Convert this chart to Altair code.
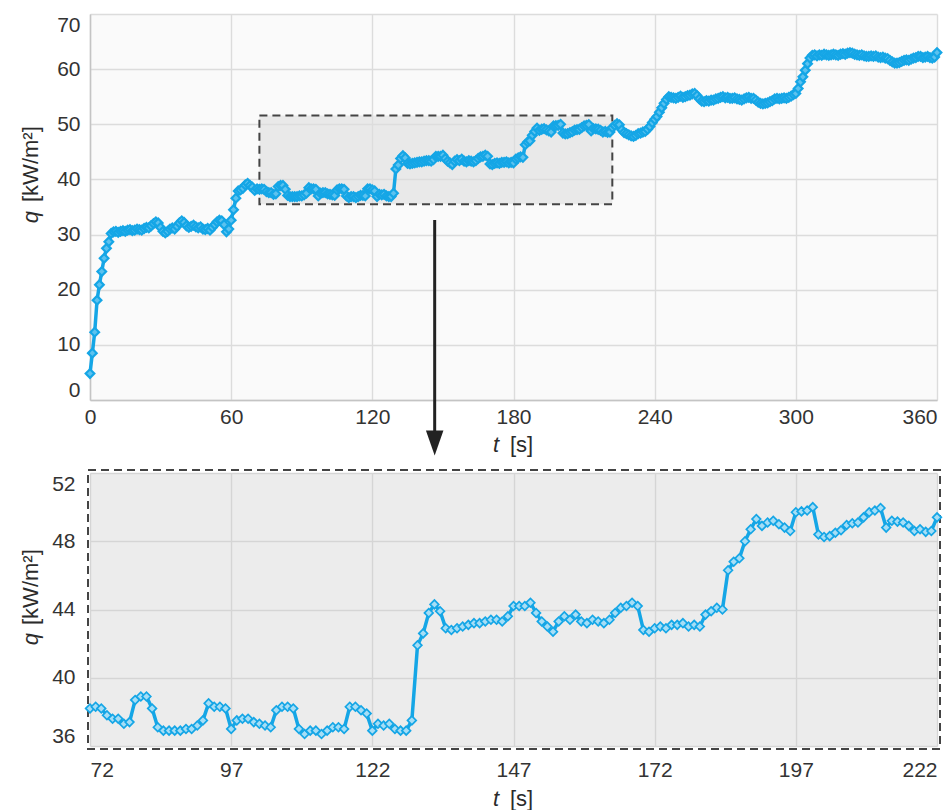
import altair as alt
import pandas as pd

# ---------------- data (heat flux q [kW/m^2] vs time t [s], 1 s steps) ----------------
t_rise = list(range(0, 72))
q_rise = [4.8, 8.5, 12.3, 18.1, 20.9, 23.3, 25.7, 27.5, 28.7, 30.2,
          30.5, 30.6, 30.4, 30.6, 30.7, 30.6, 30.8, 30.9, 30.7, 30.8,
          31.0, 30.9, 30.8, 31.1, 31.3, 31.2, 31.6, 32.0, 32.3, 32.1,
          31.3, 30.6, 30.3, 30.6, 31.0, 31.2, 31.0, 31.5, 32.1, 32.5,
          32.2, 31.6, 31.3, 31.5, 31.7, 31.4, 31.2, 31.4, 31.0, 30.9,
          31.1, 30.8, 31.3, 31.8, 32.3, 32.6, 32.5, 31.8, 30.5, 31.0,
          32.6, 34.5, 36.6, 37.9, 38.1, 38.4, 39.0, 39.3, 38.9, 38.6,
          38.0, 38.3]

t_zoom = list(range(72, 223))
q_zoom = [38.2, 38.3, 38.2, 37.8, 37.6, 37.6, 37.3, 37.4, 38.7, 38.9,
          38.9, 38.2, 37.1, 36.9, 36.9, 36.9, 36.9, 37.0, 37.0, 37.2,
          37.5, 38.5, 38.3, 38.3, 38.2, 37.0, 37.5, 37.6, 37.6, 37.4,
          37.3, 37.2, 37.1, 38.1, 38.3, 38.3, 38.2, 37.0, 36.7, 36.9,
          36.9, 36.7, 36.9, 37.1, 37.1, 37.0, 38.3, 38.3, 38.1, 37.9,
          36.9, 37.3, 37.2, 37.3, 37.0, 36.9, 36.9, 37.5, 41.9, 42.6,
          43.8, 44.3, 43.9, 42.9, 42.8, 42.9, 43.0, 43.1, 43.2, 43.2,
          43.3, 43.4, 43.4, 43.3, 43.6, 44.2, 44.2, 44.2, 44.4, 43.8,
          43.3, 43.0, 42.7, 43.3, 43.6, 43.4, 43.7, 43.3, 43.2, 43.4,
          43.3, 43.2, 43.4, 43.8, 44.1, 44.2, 44.4, 44.2, 42.8, 42.7,
          42.9, 43.0, 42.9, 43.1, 43.1, 43.2, 43.0, 43.1, 43.0, 43.7,
          43.9, 44.1, 44.0, 46.3, 46.8, 47.0, 48.0, 48.7, 49.3, 48.9,
          49.1, 49.2, 49.0, 48.8, 48.6, 49.7, 49.75, 49.8, 50.0, 48.4,
          48.25, 48.3, 48.5, 48.65, 48.95, 49.05, 49.1, 49.4, 49.7, 49.8,
          49.95, 48.8, 49.2, 49.15, 49.1, 48.9, 48.6, 48.7, 48.55, 48.6,
          49.4]

t_late = list(range(223, 361))
q_late = [49.8, 50.1, 49.9, 49.0, 48.5, 48.3, 48.1, 47.9, 47.8, 48.0,
          48.3, 48.4, 48.6, 48.7, 49.1, 49.6, 50.3, 50.9, 51.4, 52.2,
          53.0, 53.8, 54.5, 55.0, 54.9, 54.8, 54.7, 54.9, 55.1, 54.9,
          55.0, 55.2, 55.3, 55.5, 55.6, 55.2, 54.6, 54.2, 54.1, 54.3,
          54.2, 54.4, 54.4, 54.6, 54.7, 54.9, 55.0, 54.8, 54.9, 54.7,
          54.7, 54.8, 54.6, 54.5, 54.4, 54.6, 54.8, 54.9, 54.7, 54.7,
          54.4, 54.0, 53.8, 53.7, 53.8, 53.9, 54.1, 54.3, 54.6, 54.7,
          54.6, 54.7, 54.8, 54.7, 54.9, 55.1, 55.4, 55.6, 56.5, 57.7,
          58.6, 59.8, 61.0, 62.0, 62.5, 62.6, 62.4, 62.6, 62.5, 62.7,
          62.6, 62.5, 62.6, 62.7, 62.6, 62.5, 62.7, 62.8, 62.7, 62.9,
          63.0, 62.9, 62.7, 62.6, 62.5, 62.6, 62.4, 62.3, 62.3, 62.4,
          62.3, 62.4, 62.2, 62.1, 62.2, 62.0, 61.9, 61.6, 61.3, 61.1,
          61.1, 61.2, 61.4, 61.6, 61.7, 61.6, 61.8, 62.0, 62.1, 62.3,
          62.3, 62.1, 62.2, 62.3, 62.1, 62.0, 62.2, 63.0]

# zoom window drawn on the overview
zoom_t = [72, 222]
zoom_q = [35.5, 51.6]
arrow_t = 146.5

# axis ticks
top_t_ticks = [0, 60, 120, 180, 240, 300, 360]
top_q_ticks = [0, 10, 20, 30, 40, 50, 60, 70]
bot_t_ticks = [72, 97, 122, 147, 172, 197, 222]
bot_q_ticks = [36, 40, 44, 48, 52]

df = pd.DataFrame({"t": t_rise + t_zoom + t_late, "q": q_rise + q_zoom + q_late})
box = pd.DataFrame({"t0": [zoom_t[0]], "t1": [zoom_t[1]], "q0": [zoom_q[0]], "q1": [zoom_q[1]]})
one = pd.DataFrame({"k": [0]})

# ---------------- style ----------------
FONT = "Liberation Sans, Arial, sans-serif"
BLUE = "#15a6e6"
LBL = "#333333"
W = 847
H1 = 386
H2 = 273
LFS = 21


def axis(values, pad, domain, gridcolor, flush=True, right_val=None):
    kw = dict(values=values, title=None, grid=True, gridColor=gridcolor,
              gridWidth=1.4, ticks=False, labelFont=FONT, labelFontSize=LFS,
              labelColor=LBL, labelPadding=pad, domain=domain)
    if flush:
        kw["labelFlush"] = True
    else:
        kw["labelFlush"] = False
        kw["labelAlign"] = {"condition": {"test": f"datum.value == {right_val}", "value": "right"},
                            "value": "center"}
    if domain:
        kw.update(domainColor="#c4c4c4", domainWidth=1.5)
    return alt.Axis(**kw)


def label(txt, x, y, italic=False, align="center", angle=0):
    return alt.Chart(one).mark_text(
        text=txt, font=FONT, fontSize=22, fontStyle="italic" if italic else "normal",
        color="#2b2b2b", align=align, baseline="alphabetic", angle=angle,
    ).encode(x=alt.value(x), y=alt.value(y))


def series(data, xs, ys, size, sw, lw, fill):
    line = alt.Chart(data).mark_line(color=BLUE, strokeWidth=lw).encode(x=xs, y=ys)
    pts = alt.Chart(data).mark_point(
        shape="diamond", filled=True, fill=fill, stroke=BLUE, strokeWidth=sw,
        size=size, opacity=1,
    ).encode(x=xs, y=ys)
    return line, pts


# ---------------- top (overview) ----------------
xt = alt.X("t:Q", scale=alt.Scale(domain=[0, 360], nice=False, zero=False),
           axis=axis(top_t_ticks, 6, True, "#dcdcdc", flush=False, right_val=360))
yt = alt.Y("q:Q", scale=alt.Scale(domain=[0, 70], nice=False, zero=False),
           axis=axis(top_q_ticks, 10, True, "#dcdcdc"))

box_mark = alt.Chart(box).mark_rect(
    fill="#dedede", fillOpacity=0.6, stroke="#444444", strokeWidth=2, strokeDash=[8, 5]
).encode(x="t0:Q", x2="t1:Q", y="q0:Q", y2="q1:Q")

l1, p1 = series(df, xt, yt, 75, 2.2, 3.5, "#5cc2ef")

shaft = alt.Chart(one).mark_rule(color="#222222", strokeWidth=3).encode(
    x=alt.X(datum=arrow_t, type="quantitative"), y=alt.value(206), y2=alt.value(419))
head = alt.Chart(one).mark_point(
    shape="M-0.7,-1L0.7,-1L0,1Z", filled=True, color="#222222", size=625, opacity=1
).encode(x=alt.X(datum=arrow_t, type="quantitative"), y=alt.value(429))

anchor = alt.Chart(one).mark_rule(opacity=0, strokeWidth=1).encode(
    x=alt.value(-89.5), x2=alt.value(-89.5), y=alt.value(10), y2=alt.value(20))

top = alt.layer(
    box_mark, l1, p1, shaft, head,
    label("q", -52, 203, italic=True, angle=270),
    label("[kW/m²]", -52, 188, align="left", angle=270),
    label("t", 406, 438, italic=True),
    label("[s]", 420, 438, align="left"),
    anchor,
).properties(width=W, height=H1, view=alt.ViewBackground(fill="#fafafa", stroke=None))

# ---------------- bottom (zoom) ----------------
xb = alt.X("t:Q", scale=alt.Scale(domain=[72, 222], nice=False, zero=False),
           axis=axis(bot_t_ticks, 13, False, "#d5d5d5"))
yb = alt.Y("q:Q", scale=alt.Scale(domain=[36, 52], nice=False, zero=False),
           axis=axis(bot_q_ticks, 15, False, "#d5d5d5"))

dfz = df[(df["t"] >= zoom_t[0]) & (df["t"] <= zoom_t[1])]
l2, p2 = series(dfz, xb, yb, 75, 1.7, 3.5, "#a6def6")

frame = alt.Chart(one).mark_rect(
    fill="#ececec", fillOpacity=0, stroke="#444444", strokeWidth=2, strokeDash=[8, 5]
).encode(x=alt.value(-2), x2=alt.value(W + 3), y=alt.value(-3), y2=alt.value(H2 + 3))

bottom = alt.layer(
    frame, l2, p2,
    label("q", -52, 166, italic=True, angle=270),
    label("[kW/m²]", -52, 152, align="left", angle=270),
    label("t", 406, 333, italic=True),
    label("[s]", 420, 333, align="left"),
).properties(width=W, height=H2, view=alt.ViewBackground(fill="#ececec", stroke=None))

chart = alt.vconcat(top, bottom, spacing=73, bounds="flush").properties(
    padding={"left": 0, "top": 14, "right": 5, "bottom": 0}, background="white"
)

chart.save("out.html", embed_options={"renderer": "svg", "actions": False})
